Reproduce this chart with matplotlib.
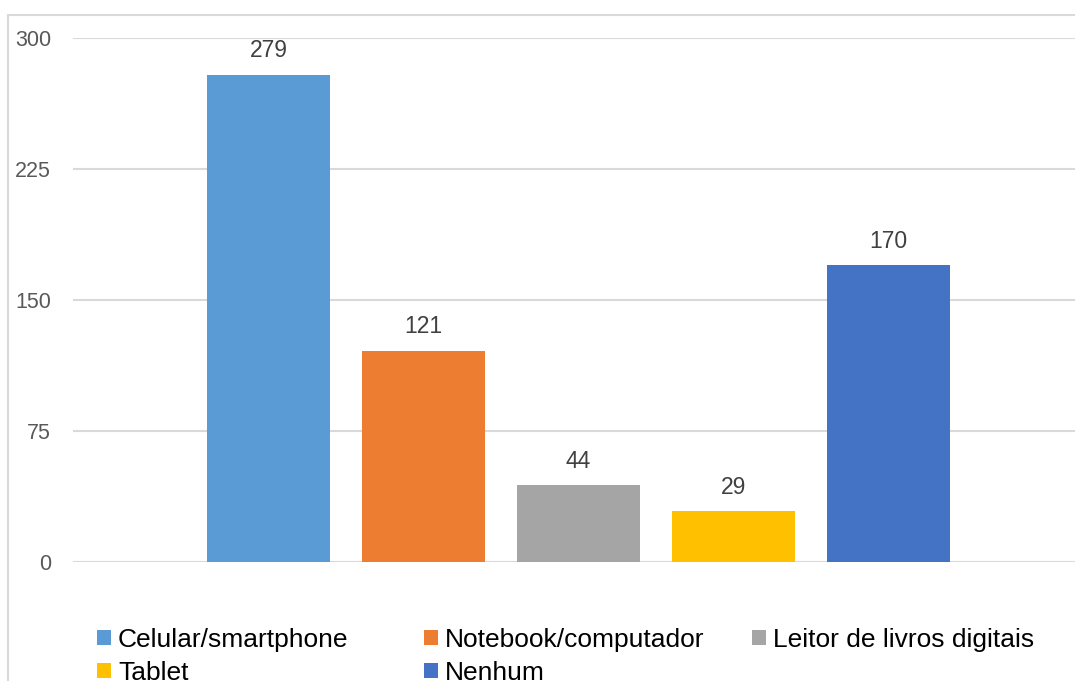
import matplotlib.pyplot as plt
from matplotlib.patches import Rectangle

categorias = ['Celular/smartphone', 'Notebook/computador', 'Leitor de livros digitais', 'Tablet', 'Nenhum']
valores = [279, 121, 44, 29, 170]
cores = ['#5b9bd5', '#ed7d31', '#a5a5a5', '#ffc000', '#4472c4']
yticks = [0, 75, 150, 225, 300]

plt.rcParams['font.family'] = ['Liberation Sans', 'DejaVu Sans']

W, H = 1075, 681
fig = plt.figure(figsize=(W / 100, H / 100), dpi=100)
ax = fig.add_axes([73 / W, (H - 562) / H, (W - 73) / W, (562 - 38) / H])

# borda do grafico (cortada a direita e embaixo)
fig.patches.append(Rectangle((8 / W, -0.1), 1.2, (H - 15) / H + 0.1, transform=fig.transFigure,
                             fill=False, edgecolor='#d9d9d9', linewidth=1.5))

barras = []
for i, (nome, v, c) in enumerate(zip(categorias, valores, cores)):
    b = ax.bar(i - 2, v, width=123 / 155, color=c, label=nome, zorder=3)
    barras.append(b)
    ax.text(i - 2, v + 7, str(v), ha='center', va='bottom', fontsize=16.5, color='#404040', clip_on=False)

ax.set_xlim((73 - 578.5) / 155, (1075 - 578.5) / 155)
ax.set_ylim(0, 300)
ax.set_yticks(yticks)
ax.set_xticks([])
ax.tick_params(axis='y', length=0, pad=15.8, labelsize=15.5, labelcolor='#595959')
ax.grid(axis='y', color='#d9d9d9', linewidth=1.5, zorder=0)
for s in ax.spines.values():
    s.set_visible(False)

# legenda em tres colunas de largura igual, como no Excel
colunas = [[0, 3], [1, 4], [2]]
xs = [97, 424, 752]
for col, x0 in zip(colunas, xs):
    leg = fig.legend([barras[k] for k in col], [categorias[k] for k in col],
                     loc='upper left', bbox_to_anchor=(x0 / W, 1 - 628 / H), frameon=False,
                     fontsize=19, handlelength=0.53, handleheight=0.53, handletextpad=0.27,
                     labelspacing=0.33, borderpad=0, borderaxespad=0)

fig.savefig('out.png', dpi=100)
